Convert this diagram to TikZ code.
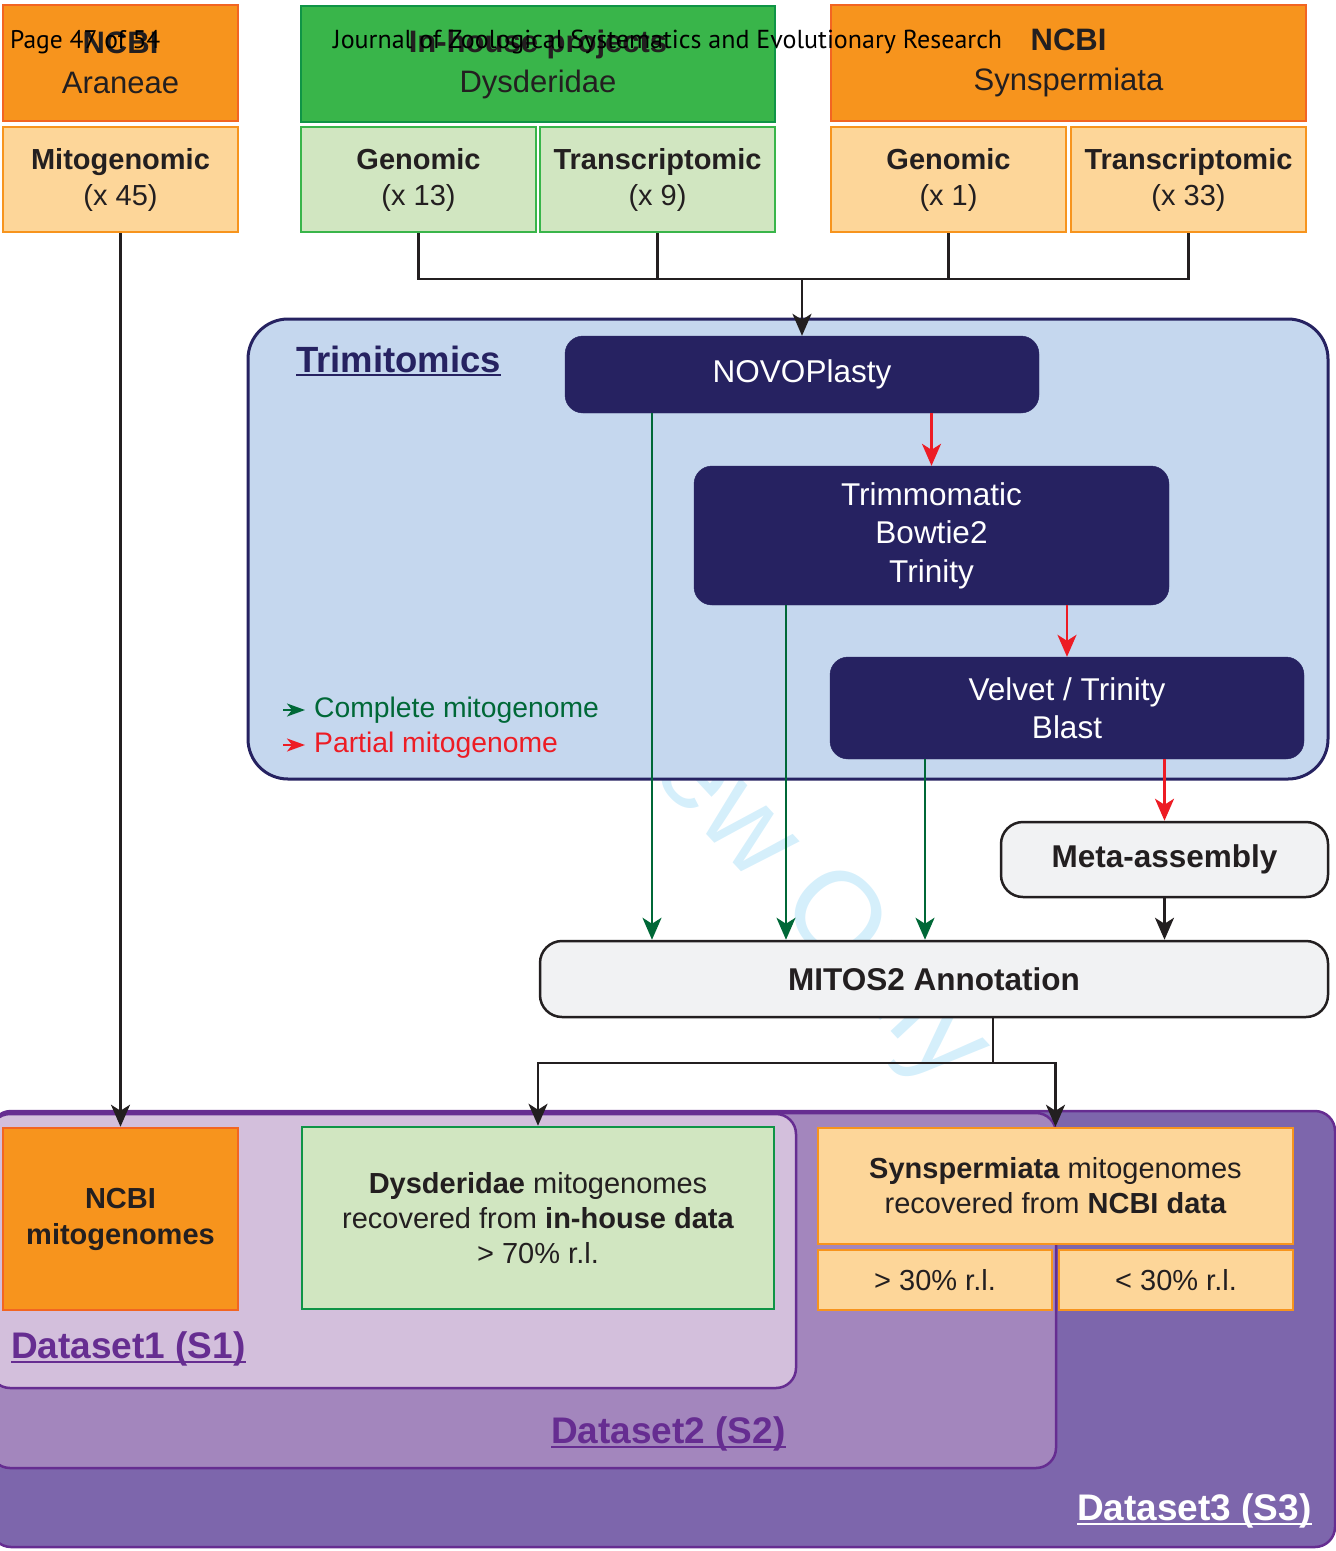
\documentclass[tikz,border=0pt]{standalone}
\usepackage{fontspec}
\setmainfont{Liberation Sans}
\newfontfamily\headfont{PT Sans}
\usetikzlibrary{arrows.meta}
\definecolor{orgD}{HTML}{F7941D}
\definecolor{orgB}{HTML}{F26522}
\definecolor{orgL}{HTML}{FDD699}
\definecolor{grnD}{HTML}{39B54A}
\definecolor{grnB}{HTML}{0F9446}
\definecolor{grnL}{HTML}{D1E6C1}
\definecolor{blueL}{HTML}{C5D7EE}
\definecolor{navy}{HTML}{262261}
\definecolor{greyL}{HTML}{F1F2F3}
\definecolor{dk}{HTML}{231F20}
\definecolor{redA}{HTML}{ED1C24}
\definecolor{grnA}{HTML}{006837}
\definecolor{purL}{HTML}{D3BFDC}
\definecolor{purM}{HTML}{A386BD}
\definecolor{purD}{HTML}{7D66AC}
\definecolor{purB}{HTML}{662D91}
\definecolor{wmark}{HTML}{D5EFFB}
\begin{document}
\begin{tikzpicture}[x=1pt,y=-1pt]
		\tikzstyle{every node}+=[inner sep=0pt, text=dk]
		\tikzstyle{hdr}=[draw, line width=2.5pt, minimum height=116pt, align=center, font=\fontsize{31}{40}\selectfont]
		\tikzstyle{sub}=[draw, line width=2.5pt, minimum width=235pt, minimum height=105pt, align=center, font=\fontsize{29}{36}\selectfont]
		\tikzstyle{tool}=[fill=navy, draw=navy, rounded corners=18pt, align=center, text=white, font=\fontsize{31.5}{38.5}\selectfont]
		\tikzstyle{stepgrey}=[fill=greyL, draw=dk, line width=2.5pt, rounded corners=22pt, font=\fontsize{31.5}{38}\selectfont\bfseries]
		\tikzstyle{result}=[draw, line width=2.5pt, align=center, font=\fontsize{29}{35}\selectfont]
		\tikzstyle{dset}=[draw=purB, line width=2.5pt, rounded corners=20pt]
		\tikzstyle{dlabel}=[anchor=base west, font=\fontsize{37}{40}\selectfont\bfseries]
		\tikzstyle{link}=[draw=dk, line width=2.5pt]
		\tikzstyle{flow}=[draw=dk, line width=2.5pt, -{Stealth[length=22pt,width=19pt,inset=6pt]}]
		\tikzstyle{cmpl}=[draw=grnA, line width=2.5pt, -{Stealth[length=22pt,width=19pt,inset=6pt]}]
		\tikzstyle{part}=[draw=redA, line width=2.5pt, -{Stealth[length=22pt,width=19pt,inset=6pt]}]
		\tikzstyle{legarrow}=[line width=2pt, -{Stealth[length=18pt,width=13pt,inset=5pt]}]
		\useasboundingbox (0,0) rectangle (1336,1551);
		\clip (0,0) rectangle (1336,1551);
		% watermark
		\node[rotate=-47, text=wmark, font=\fontsize{120}{120}\selectfont] (wmk) at (665,744) {For Review Only};
		% frames
		\node[draw=navy, fill=blueL, line width=3pt, rounded corners=40pt, minimum width=1080pt, minimum height=460pt] (trimit) at (788,549) {};
		\node[dset, fill=purD, minimum width=1344pt, minimum height=436pt] (ds3) at (663,1329) {};
		\node[dset, fill=purM, minimum width=1066pt, minimum height=355pt] (ds2) at (523,1290.5) {};
		\node[dset, fill=purL, minimum width=806pt, minimum height=274pt] (ds1) at (393,1251) {};
		% sources
		\node[hdr, fill=orgD, draw=orgB, minimum width=235pt] (araneae) at (120.5,63) {\textbf{NCBI}\\Araneae};
		\node[sub, fill=orgL, draw=orgD] (mito) at (120.5,179.5) {\textbf{Mitogenomic}\\(x 45)};
		\node[hdr, fill=grnD, draw=grnB, minimum width=474pt] (inhouse) at (538,64) {\textbf{In-house projects}\\Dysderidae};
		\node[sub, fill=grnL, draw=grnD] (genD) at (418.5,179.5) {\textbf{Genomic}\\(x 13)};
		\node[sub, fill=grnL, draw=grnD] (transD) at (657.5,179.5) {\textbf{Transcriptomic}\\(x 9)};
		\node[hdr, fill=orgD, draw=orgB, minimum width=475pt] (synsp) at (1068.5,63) {\textbf{NCBI}\\Synspermiata};
		\node[sub, fill=orgL, draw=orgD] (genS) at (948.5,179.5) {\textbf{Genomic}\\(x 1)};
		\node[sub, fill=orgL, draw=orgD] (transS) at (1188.5,179.5) {\textbf{Transcriptomic}\\(x 33)};
		% pipeline
		\node[dlabel, text=navy, font=\fontsize{36.5}{40}\selectfont\bfseries] (trimlbl) at (296,372) {Trimitomics};
		\node[tool, minimum width=474pt, minimum height=77pt] (novo) at (802,374.5) {NOVOPlasty};
		\node[tool, minimum width=475pt, minimum height=139pt] (trimmo) at (931.5,535.5) {Trimmomatic\\Bowtie2\\Trinity};
		\node[tool, minimum width=474pt, minimum height=102pt] (velvet) at (1067,708) {Velvet / Trinity\\Blast};
		\node[stepgrey, minimum width=327pt, minimum height=75pt] (meta) at (1164.5,859.5) {Meta-assembly};
		\node[stepgrey, minimum width=788pt, minimum height=76pt] (mitos) at (934,979) {MITOS2 Annotation};
		\node[anchor=west, text=grnA, font=\fontsize{28.3}{30}\selectfont] (legC) at (314,710) {Complete mitogenome};
		\node[anchor=west, text=redA, font=\fontsize{28.3}{30}\selectfont] (legP) at (314,745) {Partial mitogenome};
		\draw[legarrow, grnA] ([xshift=-31pt]legC.west) -- ([xshift=-9pt]legC.west);
		\draw[legarrow, redA] ([xshift=-31pt]legP.west) -- ([xshift=-9pt]legP.west);
		% results
		\node[result, fill=orgD, draw=orgB, minimum width=235pt, minimum height=182pt, font=\fontsize{29}{36}\selectfont\bfseries] (ncbim) at (120.5,1219) {NCBI\\mitogenomes};
		\node[result, fill=grnL, draw=grnB, minimum width=472pt, minimum height=182pt] (dysd) at (538,1218) {\textbf{Dysderidae} mitogenomes\\recovered from \textbf{in-house data}\\>\;70\% r.l.};
		\node[result, fill=orgL, draw=orgD, minimum width=475pt, minimum height=116pt] (synd) at (1055.5,1186) {\textbf{Synspermiata} mitogenomes\\recovered from \textbf{NCBI data}};
		\node[result, fill=orgL, draw=orgD, minimum width=234pt, minimum height=60pt] (hi30) at (935,1280) {>\;30\% r.l.};
		\node[result, fill=orgL, draw=orgD, minimum width=234pt, minimum height=60pt] (lo30) at (1176,1280) {<\;30\% r.l.};
		\node[dlabel, text=purB] (s1lbl) at (11,1358) {Dataset1 (S1)};
		\node[dlabel, text=purB] (s2lbl) at (551,1443) {Dataset2 (S2)};
		\node[dlabel, text=white] (s3lbl) at (1077,1520) {Dataset3 (S3)};
		\draw[navy, line width=2pt] ([yshift=-3pt]trimlbl.base west) -- ([yshift=-3pt]trimlbl.base east);
		\draw[purB, line width=2pt] ([yshift=-4pt]s1lbl.base west) -- ([yshift=-4pt]s1lbl.base east);
		\draw[purB, line width=2pt] ([yshift=-4pt]s2lbl.base west) -- ([yshift=-4pt]s2lbl.base east);
		\draw[white, line width=2pt] ([yshift=-4pt]s3lbl.base west) -- ([yshift=-4pt]s3lbl.base east);
		% connectors
		\coordinate (join) at (802,279);
		\draw[link] (genD.south) -- (genD.south |- join) -- (transS.south |- join) -- (transS.south);
		\draw[link] (transD.south) -- (transD.south |- join);
		\draw[link] (genS.south) -- (genS.south |- join);
		\draw[flow] (join) -- (novo.north);
		\draw[flow] (mito.south) -- (ncbim.north);
		\draw[part] (novo.south -| trimmo) -- (trimmo.north);
		\draw[part] (trimmo.south -| velvet) -- (velvet.north);
		\draw[part] (velvet.south -| meta) -- (meta.north);
		\coordinate (g1) at (652,413);
		\coordinate (g2) at (786,605);
		\coordinate (g3) at (925,759);
		\draw[cmpl] (g1) -- (g1 |- mitos.north);
		\draw[cmpl] (g2) -- (g2 |- mitos.north);
		\draw[cmpl] (g3) -- (g3 |- mitos.north);
		\draw[flow] (meta.south) -- (meta.south |- mitos.north);
		\coordinate (split) at (993,1063);
		\draw[link] (split |- mitos.south) -- (split);
		\draw[flow] (split) -| (dysd.north);
		\draw[flow] (split) -| (synd.north);
		% page header
		\node[anchor=west, text=black, font=\headfont\fontsize{25.5}{26}\selectfont] (pagehdr) at (10,42) {Page 47 of 54};
		\node[anchor=west, text=black, font=\headfont\fontsize{26}{26}\selectfont] (jrnhdr) at (333,42) {Journal of Zoological Systematics and Evolutionary Research};
	\end{tikzpicture}
\end{document}
